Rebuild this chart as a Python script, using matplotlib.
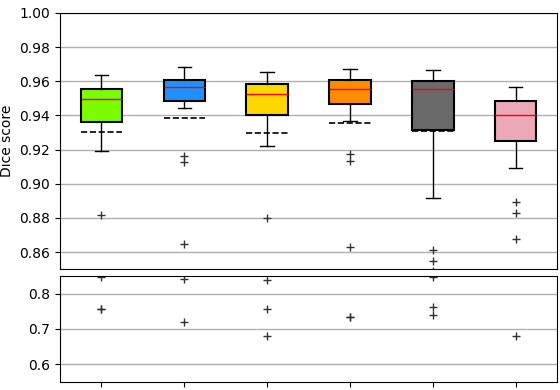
import matplotlib
matplotlib.use('Agg')
import matplotlib.pyplot as plt

# box statistics
labels = ['A', 'B', 'C', 'D', 'E', 'F']
colors = ['#7CFC00', '#1E90FF', '#FFD700', '#FF8C00', '#696969', '#EBA8B8']
whishi = [0.9636, 0.9683, 0.9656, 0.9671, 0.9665, 0.9566]
q3 = [0.9554, 0.9607, 0.9584, 0.9607, 0.9603, 0.9486]
med = [0.9496, 0.9566, 0.9525, 0.9554, 0.9554, 0.9402]
q1 = [0.9361, 0.9486, 0.9402, 0.9466, 0.9312, 0.9250]
whislo = [0.9191, 0.9445, 0.9223, 0.9369, 0.8917, 0.9092]
means = [0.9303, 0.9387, 0.9297, 0.9355, 0.9307, 0.9250]
fliers = [
    [0.8819, 0.848, 0.758, 0.756],
    [0.916, 0.9125, 0.8647, 0.842, 0.719],
    [0.880, 0.840, 0.756, 0.681],
    [0.9174, 0.9131, 0.863, 0.735, 0.733],
    [0.861, 0.855, 0.8488, 0.761, 0.741],
    [0.889, 0.8827, 0.8679, 0.681],
]

stats = []
for i in range(len(labels)):
    stats.append({'label': labels[i], 'whishi': whishi[i], 'q3': q3[i], 'med': med[i],
                  'q1': q1[i], 'whislo': whislo[i], 'mean': means[i], 'fliers': fliers[i]})

fig = plt.figure(figsize=(5.6, 3.9), dpi=100)
ax_top = fig.add_axes([0.107, 0.310, 0.888, 0.657])
ax_bot = fig.add_axes([0.107, 0.021, 0.888, 0.271])

for ax in (ax_top, ax_bot):
    bp = ax.bxp(stats, widths=0.5, capwidths=0.16, patch_artist=True,
                showmeans=True, meanline=True,
                boxprops=dict(linewidth=1.5, edgecolor='black'),
                medianprops=dict(color='red', linewidth=1),
                meanprops=dict(color='black', linestyle='--', linewidth=1.2),
                whiskerprops=dict(color='black', linewidth=1),
                capprops=dict(color='black', linewidth=1),
                flierprops=dict(marker='+', markeredgecolor='#333333', markersize=6,
                                linestyle='none'))
    for patch, c in zip(bp['boxes'], colors):
        patch.set_facecolor(c)
    ax.yaxis.grid(True, color='#b0b0b0', linewidth=1)
    ax.set_axisbelow(True)
    ax.set_xlim(0.5, 6.5)

ax_top.set_ylim(0.85, 1.0)
ax_top.set_yticks([0.86, 0.88, 0.90, 0.92, 0.94, 0.96, 0.98, 1.00])
ax_top.set_xticks([])
ax_top.set_ylabel('Dice score')

ax_bot.set_ylim(0.55, 0.85)
ax_bot.set_yticks([0.6, 0.7, 0.8])
ax_bot.set_xticks(range(1, 7))
ax_bot.set_xticklabels([])

fig.savefig('out.png', dpi=100)
